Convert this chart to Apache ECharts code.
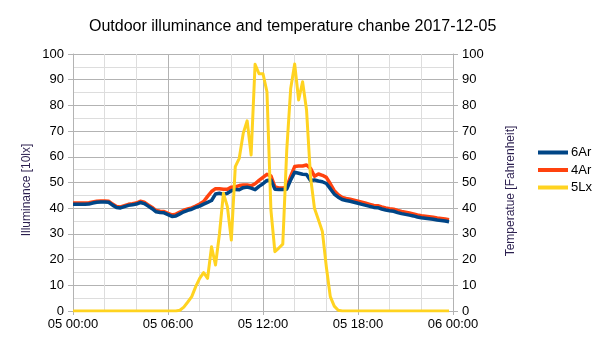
<!DOCTYPE html>
<html>
<head>
<meta charset="utf-8">
<script src="https://cdn.jsdelivr.net/npm/echarts@6/dist/echarts.min.js"></script>
<style>
  html, body { margin: 0; padding: 0; background: #ffffff; }
  #chart { width: 605px; height: 340px; }
</style>
</head>
<body>
<div id="chart"></div>
<script>
// Samples every 15 minutes from 05 00:00 to 05 23:45
const sampleStepHours = 0.25;

const xTickLabels = ['05 00:00', '05 06:00', '05 12:00', '05 18:00', '06 00:00'];
const yTickLabels = ['0', '10', '20', '30', '40', '50', '60', '70', '80', '90', '100'];

const seriesNames = ['6Ar', '4Ar', '5Lx'];

// 6Ar temperature [°F]
const temp6Ar = [
  41.5, 41.5, 41.5, 41.5, 41.6, 42.0, 42.3, 42.4,
  42.4, 42.3, 41.2, 40.3, 40.1, 40.6, 41.1, 41.3,
  41.6, 42.2, 41.8, 40.8, 39.8, 38.6, 38.3, 38.2,
  37.5, 36.8, 37.0, 37.8, 38.6, 39.2, 39.6, 40.3,
  40.8, 41.6, 42.3, 43.0, 45.5, 45.8, 45.4, 45.8,
  46.8, 47.3, 47.2, 48.0, 48.2, 47.8, 47.2, 48.5,
  49.5, 50.8, 51.0, 47.4, 47.3, 47.3, 47.4, 51.0,
  54.0, 53.6, 53.2, 53.1, 50.8, 51.0, 50.6, 50.3,
  49.6, 47.6, 45.5, 44.3, 43.4, 43.0, 42.7, 42.3,
  41.9, 41.5, 41.1, 40.7, 40.3, 40.2, 39.7, 39.3,
  39.0, 38.8, 38.3, 37.9, 37.6, 37.3, 37.0, 36.6,
  36.3, 36.1, 35.9, 35.7, 35.4, 35.2, 35.0, 34.7
];

// 4Ar temperature [°F]
const temp4Ar = [
  42.0, 42.0, 42.0, 42.0, 42.1, 42.4, 42.7, 42.8,
  42.8, 42.7, 41.6, 40.7, 40.5, 41.0, 41.5, 41.7,
  42.0, 42.7, 42.3, 41.3, 40.3, 39.1, 38.8, 38.7,
  38.0, 37.4, 37.7, 38.5, 39.2, 39.7, 40.1, 40.8,
  41.6, 42.6, 44.6, 46.5, 47.6, 47.6, 47.4, 47.4,
  48.2, 48.3, 48.8, 49.0, 49.0, 48.7, 49.5, 50.8,
  52.0, 53.2, 52.6, 48.3, 47.9, 47.9, 48.1, 52.5,
  56.2, 56.4, 56.4, 56.8, 55.5, 52.4, 53.3, 52.8,
  52.0, 49.5, 46.8, 45.2, 44.2, 43.8, 43.5, 43.1,
  42.7, 42.3, 41.9, 41.5, 41.1, 41.0, 40.5, 40.1,
  39.8, 39.6, 39.1, 38.7, 38.4, 38.1, 37.8, 37.4,
  37.1, 36.9, 36.7, 36.5, 36.2, 36.0, 35.8, 35.5
];

// 5Lx illuminance [10 lx]
const lux5Lx = [
  0, 0, 0, 0, 0, 0, 0, 0,
  0, 0, 0, 0, 0, 0, 0, 0,
  0, 0, 0, 0, 0, 0, 0, 0,
  0, 0, 0, 0.3, 1.5, 3.5, 5.6, 9.5,
  12.7, 14.9, 12.7, 25.0, 17.9, 30.0, 45.8, 40.6,
  27.6, 56.2, 59.4, 69.1, 74.0, 60.7, 96.0, 92.3,
  92.3, 85.3, 39.3, 23.1, 24.5, 26.0, 62.6, 86.6,
  96.1, 82.1, 89.2, 78.2, 52.3, 40.0, 35.5, 30.9,
  17.2, 5.6, 1.9, 0.3, 0, 0, 0, 0,
  0, 0, 0, 0, 0, 0, 0, 0,
  0, 0, 0, 0, 0, 0, 0, 0,
  0, 0, 0, 0, 0, 0, 0, 0
];

const colors = { '6Ar': '#004586', '4Ar': '#ff420e', '5Lx': '#ffd320' };

function pairs(values) {
  return values.map((v, i) => [i * sampleStepHours, v]);
}

const font = '"Liberation Sans", Arial, sans-serif';
const gridMajor = '#b3b3b3';
const gridMinor = '#dddddd';

function yAxisDef(position, showSplit) {
  return {
    type: 'value',
    position: position,
    min: 0, max: 100, interval: 10,
    axisLine: { show: true, lineStyle: { color: gridMajor, width: 1 } },
    axisTick: { show: true, length: 5, lineStyle: { color: gridMajor } },
    axisLabel: {
      margin: 9, color: '#000', fontSize: 13, fontFamily: font,
      formatter: v => yTickLabels[Math.round(v / 10)]
    },
    splitLine: { show: showSplit, lineStyle: { color: gridMajor, width: 1 } },
    minorTick: { show: false, splitNumber: 2 },
    minorSplitLine: { show: showSplit, lineStyle: { color: gridMinor, width: 1 } }
  };
}

const chart = echarts.init(document.getElementById('chart'), null, { renderer: 'canvas' });

chart.setOption({
  backgroundColor: '#ffffff',
  animation: false,
  title: {
    text: 'Outdoor illuminance and temperature chanbe 2017-12-05',
    left: 84, top: 14,
    textStyle: { fontSize: 16, fontWeight: 'normal', color: '#000', fontFamily: font }
  },
  legend: {
    data: seriesNames,
    orient: 'vertical',
    left: 533, top: 141,
    icon: 'rect',
    itemWidth: 30, itemHeight: 4, itemGap: 4.5,
    textStyle: { fontSize: 13, color: '#000', fontFamily: font, padding: [0, 0, 0, -2] }
  },
  grid: { left: 73, right: 152, top: 54, bottom: 29, containLabel: false },
  xAxis: {
    type: 'value',
    min: 0, max: 24, interval: 6,
    axisLine: { show: true, onZero: false, lineStyle: { color: gridMajor, width: 1 } },
    axisTick: { show: true, length: 4, lineStyle: { color: gridMajor } },
    axisLabel: {
      margin: 7, color: '#000', fontSize: 13, fontFamily: font,
      formatter: v => xTickLabels[Math.round(v / 6)]
    },
    splitLine: { show: true, lineStyle: { color: gridMajor, width: 1 } },
    minorTick: { show: false, splitNumber: 3 },
    minorSplitLine: { show: true, lineStyle: { color: gridMinor, width: 1 } }
  },
  yAxis: [yAxisDef('left', true), yAxisDef('right', false)],
  graphic: [
    {
      type: 'text', x: 27, y: 190, rotation: Math.PI / 2,
      style: {
        text: 'Illuminance [10lx]', fontSize: 12, fontFamily: font,
        fill: '#2b1f4f', textAlign: 'center', textVerticalAlign: 'middle'
      }
    },
    {
      type: 'text', x: 511, y: 191, rotation: Math.PI / 2,
      style: {
        text: 'Temperatue [Fahrenheit]', fontSize: 12, fontFamily: font,
        fill: '#2b1f4f', textAlign: 'center', textVerticalAlign: 'middle'
      }
    }
  ],
  series: [
    {
      name: '6Ar', type: 'line', yAxisIndex: 1, z: 3,
      data: pairs(temp6Ar), showSymbol: false, symbol: 'none',
      color: colors['6Ar'],
      lineStyle: { width: 3.5, color: colors['6Ar'], join: 'round' }
    },
    {
      name: '4Ar', type: 'line', yAxisIndex: 1, z: 2,
      data: pairs(temp4Ar), showSymbol: false, symbol: 'none',
      color: colors['4Ar'],
      lineStyle: { width: 3.5, color: colors['4Ar'], join: 'round' }
    },
    {
      name: '5Lx', type: 'line', yAxisIndex: 0, z: 4,
      data: pairs(lux5Lx), showSymbol: false, symbol: 'none',
      color: colors['5Lx'],
      lineStyle: { width: 3, color: colors['5Lx'], join: 'round' }
    }
  ]
});
</script>
</body>
</html>
